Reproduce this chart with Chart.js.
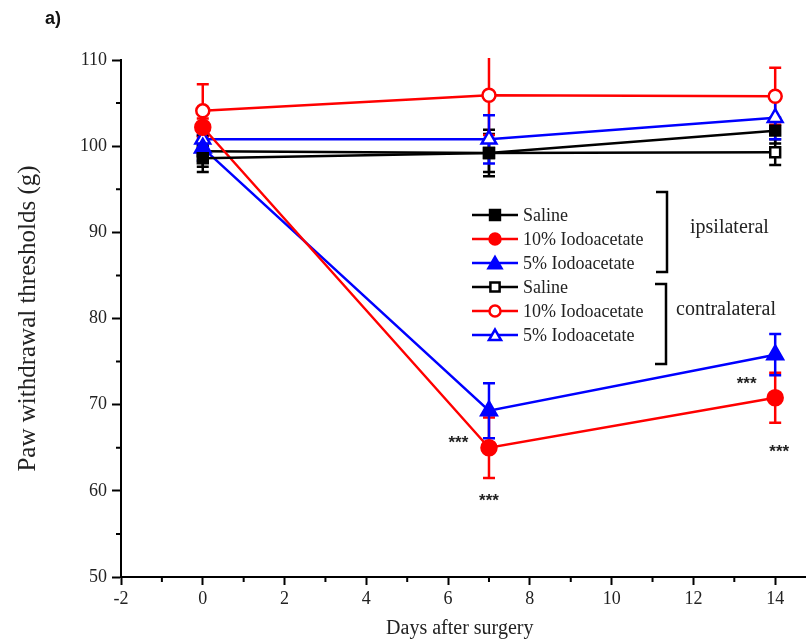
<!DOCTYPE html>
<html><head><meta charset="utf-8">
<script src="https://cdn.jsdelivr.net/npm/chart.js@4/dist/chart.umd.min.js"></script>
<style>html,body{margin:0;padding:0;background:#fff}</style>
</head><body>
<canvas id="c" width="810" height="644"></canvas>
<script>
// ---- data ----
const days = [0, 7, 14];
const seriesLabels = ['Saline', '10% Iodoacetate', '5% Iodoacetate', 'Saline', '10% Iodoacetate', '5% Iodoacetate'];
const ipsiSaline = [98.6, 99.2, 101.8];
const ipsiSalineErr = [1.6, 2.2, 1.5];
const ipsi10 = [102.2, 65.0, 70.8];
const ipsi10Err = [1.0, 3.5, 2.9];
const ipsi5 = [99.8, 69.3, 75.8];
const ipsi5Err = [1.5, 3.2, 2.4];
const contraSaline = [99.4, 99.2, 99.3];
const contraSalineErr = [1.8, 2.7, 1.5];
const contra10 = [104.1, 105.9, 105.8];
const contra10Err = [3.1, 4.6, 3.3];
const contra5 = [100.8, 100.8, 103.3];
const contra5Err = [1.5, 2.8, 2.5];
const xTicks = [-2, 0, 2, 4, 6, 8, 10, 12, 14];
const xMinorTicks = [-1, 1, 3, 5, 7, 9, 11, 13];
const yTicks = [50, 60, 70, 80, 90, 100, 110];
const yMinorTicks = [55, 65, 75, 85, 95, 105];
const groupLabels = ['ipsilateral', 'contralateral'];
const starText = '***';
const starX = [7, 6.25, 13.3, 14.1];
const starY = [59.3, 66.0, 72.8, 64.9];
const panelLabel = 'a)';

const BLACK = '#000000', RED = '#ff0000', BLUE = '#0000ff';
const serif = "'Liberation Serif', 'Times New Roman', serif";

function pts(vals) { return days.map((d, i) => ({ x: d, y: vals[i] })); }

const specs = [
  { vals: ipsiSaline, err: ipsiSalineErr, color: BLACK, style: 'rect', open: false, r: 7 },
  { vals: ipsi10, err: ipsi10Err, color: RED, style: 'circle', open: false, r: 7.5 },
  { vals: ipsi5, err: ipsi5Err, color: BLUE, style: 'triangle', open: false, r: 9 },
  { vals: contraSaline, err: contraSalineErr, color: BLACK, style: 'rect', open: true, r: 7 },
  { vals: contra10, err: contra10Err, color: RED, style: 'circle', open: true, r: 6.5 },
  { vals: contra5, err: contra5Err, color: BLUE, style: 'triangle', open: true, r: 8.5 }
];

const datasets = specs.map((s, i) => ({
  label: seriesLabels[i],
  data: pts(s.vals),
  errors: s.err,
  borderColor: s.color,
  backgroundColor: s.color,
  borderWidth: 2.5,
  pointStyle: s.style,
  pointRadius: s.r,
  pointBorderWidth: 2.5,
  pointBorderColor: s.color,
  pointBackgroundColor: s.open ? '#ffffff' : s.color,
  tension: 0,
  fill: false
}));

const errorBars = {
  id: 'errorBars',
  beforeDatasetsDraw(chart) {
    const { ctx, chartArea: a, scales: { x, y } } = chart;
    ctx.save();
    ctx.beginPath();
    ctx.rect(a.left, a.top - 2, a.right - a.left + 10, a.bottom - a.top + 4);
    ctx.clip();
    chart.data.datasets.forEach(ds => {
      ctx.strokeStyle = ds.borderColor;
      ctx.lineWidth = 2.5;
      ds.data.forEach((p, i) => {
        const e = ds.errors[i];
        const px = x.getPixelForValue(p.x);
        const top = y.getPixelForValue(p.y + e);
        const bot = y.getPixelForValue(p.y - e);
        ctx.beginPath();
        ctx.moveTo(px, top); ctx.lineTo(px, bot);
        ctx.moveTo(px - 6, top); ctx.lineTo(px + 6, top);
        ctx.moveTo(px - 6, bot); ctx.lineTo(px + 6, bot);
        ctx.stroke();
      });
    });
    ctx.restore();
  }
};

function drawMarker(ctx, style, open, color, r, cx, cy) {
  ctx.save();
  ctx.lineWidth = 2.5;
  ctx.strokeStyle = color;
  ctx.fillStyle = open ? '#ffffff' : color;
  ctx.beginPath();
  if (style === 'rect') {
    const s = r * Math.SQRT1_2;
    ctx.rect(cx - s, cy - s, 2 * s, 2 * s);
  } else if (style === 'circle') {
    ctx.arc(cx, cy, r, 0, Math.PI * 2);
  } else {
    let rad = 0;
    ctx.moveTo(cx + Math.sin(rad) * r, cy - Math.cos(rad) * r);
    rad += 2 * Math.PI / 3;
    ctx.lineTo(cx + Math.sin(rad) * r, cy - Math.cos(rad) * r);
    rad += 2 * Math.PI / 3;
    ctx.lineTo(cx + Math.sin(rad) * r, cy - Math.cos(rad) * r);
    ctx.closePath();
  }
  ctx.fill();
  ctx.stroke();
  ctx.restore();
}

const decorations = {
  id: 'decorations',
  afterDraw(chart) {
    const { ctx, chartArea: a, scales: { x, y } } = chart;
    ctx.save();
    // axis line continuation to the right edge of the frame
    ctx.strokeStyle = '#000'; ctx.lineWidth = 2;
    ctx.beginPath(); ctx.moveTo(a.right - 1, a.bottom); ctx.lineTo(806, a.bottom); ctx.stroke();
    // minor ticks
    ctx.beginPath();
    xMinorTicks.forEach(v => { const px = x.getPixelForValue(v); ctx.moveTo(px, a.bottom); ctx.lineTo(px, a.bottom + 5); });
    yMinorTicks.forEach(v => { const py = y.getPixelForValue(v); ctx.moveTo(a.left, py); ctx.lineTo(a.left - 5, py); });
    ctx.stroke();

    // stars
    ctx.fillStyle = '#222';
    ctx.font = "bold 17px 'Liberation Sans', Arial, sans-serif";
    ctx.textAlign = 'center'; ctx.textBaseline = 'middle';
    starX.forEach((sx, i) => ctx.fillText(starText, x.getPixelForValue(sx), y.getPixelForValue(starY[i]) + 4));

    // legend
    const rowY = [215, 239, 263, 287, 311, 335];
    const legR = [7, 5.5, 7.5, 6.5, 5.5, 7];
    chart.data.datasets.forEach((ds, i) => {
      const sp = specs[i];
      const yy = rowY[i];
      ctx.strokeStyle = sp.color; ctx.lineWidth = 2.5;
      ctx.beginPath(); ctx.moveTo(472, yy); ctx.lineTo(518, yy); ctx.stroke();
      drawMarker(ctx, sp.style, sp.open, sp.color, legR[i], 495, yy + (sp.style === 'triangle' ? 1.5 : 0));
      ctx.fillStyle = '#222';
      ctx.font = '18px ' + serif;
      ctx.textAlign = 'left'; ctx.textBaseline = 'middle';
      ctx.fillText(ds.label, 523, yy + 1);
    });

    // brackets
    ctx.strokeStyle = '#000'; ctx.lineWidth = 2.5;
    ctx.beginPath();
    ctx.moveTo(656, 192); ctx.lineTo(667, 192); ctx.lineTo(667, 272); ctx.lineTo(656, 272);
    ctx.moveTo(655, 284); ctx.lineTo(666, 284); ctx.lineTo(666, 364); ctx.lineTo(655, 364);
    ctx.stroke();
    ctx.fillStyle = '#222';
    ctx.font = '20px ' + serif;
    ctx.textAlign = 'left'; ctx.textBaseline = 'middle';
    ctx.fillText(groupLabels[0], 690, 228);
    ctx.fillText(groupLabels[1], 676, 310);

    // panel label
    ctx.fillStyle = '#111';
    ctx.font = "bold 18px 'Liberation Sans', Arial, sans-serif";
    ctx.textAlign = 'left'; ctx.textBaseline = 'middle';
    ctx.fillText(panelLabel, 45, 19);
    ctx.restore();
  }
};

new Chart(document.getElementById('c'), {
  type: 'line',
  data: { datasets },
  plugins: [errorBars, decorations],
  options: {
    responsive: false,
    animation: false,
    layout: { padding: { top: 60, right: 4, left: 0, bottom: 0 } },
    plugins: { legend: { display: false }, tooltip: { enabled: false } },
    scales: {
      x: {
        type: 'linear', min: -2, max: 14.57,
        afterBuildTicks: s => { s.ticks = xTicks.map(v => ({ value: v })); },
        afterFit: s => { s.height = 67; },
        ticks: { font: { family: serif, size: 18 }, color: '#222', padding: 3, maxRotation: 0, autoSkip: false },
        grid: { drawOnChartArea: false, tickLength: 8, tickWidth: 2, tickColor: '#000' },
        border: { color: '#000', width: 2 },
        title: { display: true, text: 'Days after surgery', font: { family: serif, size: 20 }, color: '#222', padding: { top: 0, bottom: 3 } }
      },
      y: {
        type: 'linear', min: 50, max: 110,
        afterBuildTicks: s => { s.ticks = yTicks.map(v => ({ value: v })); },
        afterFit: s => { s.width = 121; },
        ticks: { font: { family: serif, size: 18 }, color: '#222', padding: 5 },
        grid: { drawOnChartArea: false, tickLength: 9, tickWidth: 2, tickColor: '#000' },
        border: { color: '#000', width: 2 },
        title: { display: true, text: 'Paw withdrawal thresholds (g)', font: { family: serif, size: 25 }, color: '#222', padding: { top: 13, bottom: 0 } }
      }
    }
  }
});
</script>
</body></html>
